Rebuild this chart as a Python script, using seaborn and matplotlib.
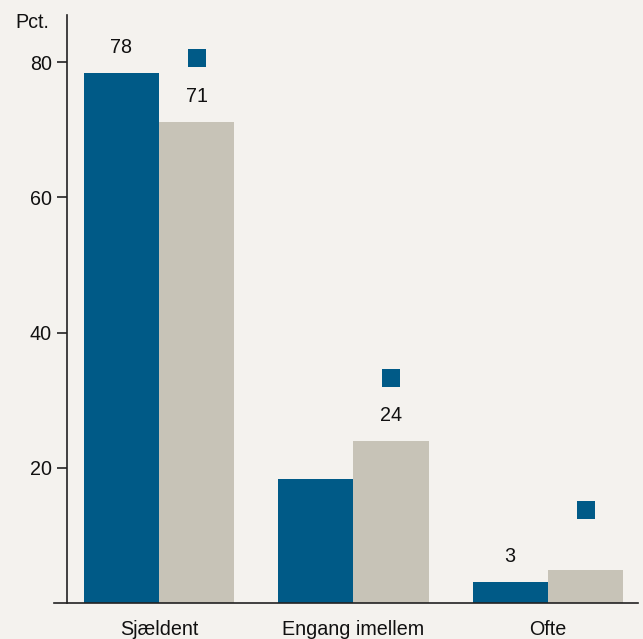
import matplotlib
matplotlib.use("Agg")
import matplotlib.pyplot as plt
import seaborn as sns
import pandas as pd

categories = ["Sjældent", "Engang imellem", "Ofte"]
series_names = ["Serie A", "Serie B"]
values_a = [78.4, 18.3, 3.1]
values_b = [71.1, 24.0, 4.9]
markers_b = [80.7, 33.3, 13.8]
labels_a = ["78", "", "3"]
labels_b = ["71", "24", ""]
yticks = [20, 40, 60, 80]

BG = "#F4F2EE"
BLUE = "#005A87"
BEIGE = "#C7C3B7"
FS = 14.2

sns.set_theme(style="white")
plt.rcParams["font.family"] = ["Liberation Sans", "DejaVu Sans"]

df = pd.DataFrame({
    "cat": categories * 2,
    "serie": [series_names[0]] * 3 + [series_names[1]] * 3,
    "val": values_a + values_b,
})

fig = plt.figure(figsize=(6.43, 6.39), dpi=100, facecolor=BG)
ax = fig.add_axes([54 / 643, 1 - 603 / 639, (638 - 54) / 643, (603 - 15) / 639])
ax.set_facecolor(BG)

sns.barplot(data=df, x="cat", y="val", hue="serie", order=categories,
            hue_order=series_names, palette=[BLUE, BEIGE], width=0.776,
            saturation=1, ax=ax, legend=False, linewidth=0)

ax.set_xlim(-0.54, 2.463)
ax.set_ylim(0, 87)

# labels
for cont, labs in zip(ax.containers, [labels_a, labels_b]):
    for bar, lab in zip(cont, labs):
        if lab:
            ax.annotate(lab, (bar.get_x() + bar.get_width() / 2, bar.get_height()),
                        xytext=(0, 11.5), textcoords="offset points",
                        ha="center", va="bottom", fontsize=FS, color="#111111")

# square markers above series B bars
xs = [b.get_x() + b.get_width() / 2 for b in ax.containers[1]]
ax.scatter(xs, markers_b, marker="s", s=150, color=BLUE, linewidths=0, zorder=5)

ax.set_yticks(yticks)
ax.set_yticklabels([str(t) for t in yticks])
ax.tick_params(axis="y", direction="out", length=7, width=1.2, color="#222222", pad=4,
               left=True, labelsize=FS, labelcolor="#111111")
ax.tick_params(axis="x", length=0, labelsize=FS, labelcolor="#111111", pad=12)
ax.set_xlabel("")
ax.set_ylabel("")

for s in ["top", "right"]:
    ax.spines[s].set_visible(False)
ax.spines["left"].set_position(("data", -0.473))
ax.spines["left"].set_color("#222222")
ax.spines["left"].set_linewidth(1.2)
ax.spines["bottom"].set_color("#222222")
ax.spines["bottom"].set_linewidth(1.2)

fig.text(15 / 643, 1 - 22 / 639, "Pct.", fontsize=FS, ha="left", va="center", color="#111111")

fig.savefig("out.png", dpi=100, facecolor=BG)
